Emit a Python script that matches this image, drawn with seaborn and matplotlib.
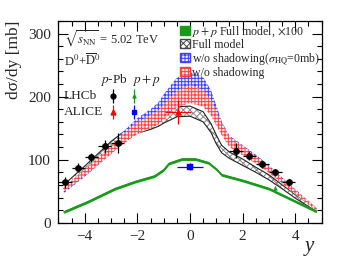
import numpy as np
import pandas as pd
import matplotlib
matplotlib.use("Agg")
import matplotlib.pyplot as plt
import seaborn as sns
from matplotlib.patches import Patch
from matplotlib.ticker import MultipleLocator

# ---------------- data ----------------
rap = [-4.8, -4.0, -3.0, -2.5, -2.0, -1.5, -1.2, -1.0, -0.5, 0.0, 0.5, 0.8, 1.0, 1.2, 1.5, 2.0, 2.5, 3.0, 3.5, 4.0, 4.8]
full_model = [57, 86, 124, 139, 148, 155, 160, 166, 176, 177, 168, 150, 132, 117, 107, 96, 84, 72, 57, 42, 20]
full_hw = [3, 4, 5, 6, 6, 7, 7, 8, 8, 8, 8, 7, 7, 6, 5, 5, 4, 4, 3, 3, 2]
noshad_sig0 = [50, 78, 116, 138, 157, 170, 180, 192, 217, 225, 218, 198, 175, 152, 130, 116, 102, 86, 68, 50, 22]
noshad_sig0_hw = [3, 5, 7, 8, 9, 10, 11, 12, 13, 14, 13, 12, 11, 9, 8, 7, 6, 5, 4, 3, 2]
noshad = [53, 80, 116, 134, 150, 160, 167, 175, 196, 204, 197, 182, 165, 148, 128, 114, 100, 84, 66, 48, 22]
noshad_hw = [3, 5, 7, 8, 9, 10, 11, 12, 13, 14, 13, 12, 11, 9, 8, 7, 6, 5, 4, 3, 2]

pp_rap = [-4.8, -3.9, -2.85, -2.1, -1.35, -1.0, -0.8, -0.3, 0.2, 0.7, 1.0, 1.2, 2.0, 3.0, 3.75, 4.8]
pp_model = [17, 33, 54, 65, 74, 84, 94, 101, 101, 95, 85, 76, 67, 54, 39, 18]
pp_hw = [2.2] * len(pp_rap)

lhcb_ppb_y = [-4.75, -4.25, -3.75, -3.25, -2.75, 1.75, 2.25, 2.75, 3.25, 3.75]
lhcb_ppb_v = [64, 87, 104, 121, 126, 114, 106, 93, 80, 64]
lhcb_ppb_e = [9, 7, 7, 10, 16, 12, 7, 6, 6, 6]
lhcb_pp_y = [3.25]
lhcb_pp_v = [55]
lhcb_pp_e = [4]
alice_ppb_y = [-0.465]
alice_ppb_v = [176]
alice_ppb_e = [19]
alice_pp_y = [0.0]
alice_pp_v = [89]
alice_pp_e = [6]

# ---------------- style ----------------
sns.set_theme(style="ticks")
plt.rcParams["font.family"] = ["Liberation Serif", "DejaVu Serif"]
plt.rcParams["mathtext.fontset"] = "stix"
plt.rcParams["hatch.linewidth"] = 0.7

GREEN = "#1a9a1a"
fig = plt.figure(figsize=(3.39, 2.69), dpi=100)
ax = fig.add_axes([0.171, 0.172, 0.779, 0.750])

def band(x, c, hw, hatch_col, face, hatch, z, edge=None):
    c = np.asarray(c, float); hw = np.asarray(hw, float)
    lo, hi = c - hw, c + hw
    ax.fill_between(x, lo, hi, facecolor=face, edgecolor=hatch_col, hatch=hatch, linewidth=0, zorder=z)
    if edge is not None:
        df = pd.DataFrame({"x": list(x) + list(x), "v": list(lo) + list(hi),
                           "s": ["lo"] * len(x) + ["hi"] * len(x)})
        for s in ["lo", "hi"]:
            d = df[df.s == s]
            sns.lineplot(data=d, x="x", y="v", ax=ax, color=edge, lw=0.8, sort=False,
                         estimator=None, zorder=z + 0.1)

band(rap, full_model, full_hw, "#888888", "white", "xxxxx", 2, edge="#222222")
band(rap, noshad_sig0, noshad_sig0_hw, "#4040ff", "#eeeeff", "+++++", 3)
band(rap, noshad, noshad_hw, "#ff4040", "#ffeeee", "+++++", 4)

ax.fill_between(pp_rap, np.array(pp_model) - np.array(pp_hw), np.array(pp_model) + np.array(pp_hw),
                color=GREEN, lw=0, zorder=5)
sns.lineplot(x=pp_rap, y=pp_model, ax=ax, color=GREEN, lw=1.0, sort=False, estimator=None, zorder=5)

# data points
ax.errorbar(lhcb_ppb_y, lhcb_ppb_v, yerr=lhcb_ppb_e, xerr=0.25, fmt="none", ecolor="black", elinewidth=0.9, zorder=7)
sns.scatterplot(x=lhcb_ppb_y, y=lhcb_ppb_v, ax=ax, color="black", marker="o", s=20, edgecolor="black", zorder=8)
ax.errorbar(lhcb_pp_y, lhcb_pp_v, yerr=lhcb_pp_e, fmt="none", ecolor=GREEN, elinewidth=0.9, zorder=7)
sns.scatterplot(x=lhcb_pp_y, y=lhcb_pp_v, ax=ax, color=GREEN, marker="^", s=8, edgecolor=GREEN, zorder=8)
ax.errorbar(alice_ppb_y, alice_ppb_v, yerr=alice_ppb_e, xerr=0.5, fmt="none", ecolor="red", elinewidth=0.9, zorder=7)
sns.scatterplot(x=alice_ppb_y, y=alice_ppb_v, ax=ax, color="red", marker="^", s=18, edgecolor="red", zorder=8)
ax.errorbar(alice_pp_y, alice_pp_v, yerr=alice_pp_e, xerr=0.5, fmt="none", ecolor="blue", elinewidth=0.9, zorder=7)
sns.scatterplot(x=alice_pp_y, y=alice_pp_v, ax=ax, color="blue", marker="s", s=16, edgecolor="blue", zorder=8)

# axes
ax.set_xlim(-5.02, 5.02)
ax.set_ylim(0, 320)
ax.xaxis.set_major_locator(MultipleLocator(2))
ax.xaxis.set_minor_locator(MultipleLocator(0.5))
ax.yaxis.set_major_locator(MultipleLocator(100))
ax.yaxis.set_minor_locator(MultipleLocator(20))
ax.tick_params(which="both", direction="in", top=True, right=True, labelsize=11, width=0.8, color="black")
ax.tick_params(which="major", length=7, pad=5)
ax.tick_params(which="minor", length=3.5)
ax.set_xticks([-4, -2, 0, 2, 4])
ax.set_xticklabels(["\u22124", "\u22122", "0", "2", "4"])
for sp in ax.spines.values():
    sp.set_linewidth(0.9)
    sp.set_color("black")
ax.set_ylabel("d\u03c3/dy [mb]", fontsize=12.5, loc="top", labelpad=4)
ax.yaxis.set_label_coords(-0.135, 1.0)
ax.set_xlabel("y", fontsize=15, style="italic", loc="right")
ax.xaxis.set_label_coords(0.97, -0.07)

# legend
handles = [
    Patch(facecolor=GREEN, edgecolor=GREEN),
    Patch(facecolor="white", edgecolor="#444444", hatch="xxxxx"),
    Patch(facecolor="#eeeeff", edgecolor="#4040ff", hatch="+++++"),
    Patch(facecolor="#ffeeee", edgecolor="#ff4040", hatch="+++++"),
]
labels = [r"$p+p$ Full model, $\times$100", "Full model",
          r"w/o shadowing($\sigma_{\rm HQ}$=0mb)", "w/o shadowing"]
ax.legend(handles, labels, loc="upper left", bbox_to_anchor=(0.435, 1.02), frameon=False,
          fontsize=8.6, handlelength=0.8, handleheight=0.75, handletextpad=0.2,
          labelspacing=0.02, borderaxespad=0.2)

# inset text
ax.text(0.022, 0.91, r"$\sqrt{s_{\rm NN}}$ = 5.02 TeV", transform=ax.transAxes, fontsize=9, va="center")
ax.text(0.022, 0.80, r"D$^0$+$\overline{\rm D}^0$", transform=ax.transAxes, fontsize=9, va="center")
ax.text(0.16, 0.707, r"$p$-Pb", transform=ax.transAxes, fontsize=9.5, va="center")
ax.text(0.28, 0.707, r"$p+p$", transform=ax.transAxes, fontsize=9.5, va="center")
ax.text(0.022, 0.628, "LHCb", transform=ax.transAxes, fontsize=9.5, va="center")
ax.text(0.022, 0.549, "ALICE", transform=ax.transAxes, fontsize=9.5, va="center")
ax.errorbar([0.208], [0.628], yerr=[0.035], fmt="o", ms=3.5, color="black", elinewidth=0.9, transform=ax.transAxes)
ax.errorbar([0.288], [0.628], yerr=[0.035], fmt="^", ms=2.2, color=GREEN, elinewidth=0.9, transform=ax.transAxes)
ax.errorbar([0.208], [0.549], yerr=[0.035], fmt="^", ms=3.5, color="red", elinewidth=0.9, transform=ax.transAxes)
ax.errorbar([0.288], [0.549], yerr=[0.035], fmt="s", ms=3.5, color="blue", elinewidth=0.9, transform=ax.transAxes)

fig.savefig("out.png", dpi=100)
